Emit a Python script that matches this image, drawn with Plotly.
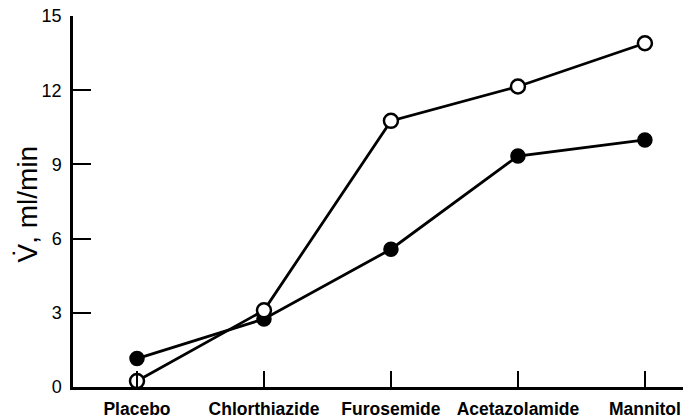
import plotly.graph_objects as go

categories = ["Placebo", "Chlorthiazide", "Furosemide", "Acetazolamide", "Mannitol"]
open_values = [0.24, 3.1, 10.76, 12.15, 13.9]
filled_values = [1.15, 2.75, 5.57, 9.34, 9.99]
y_ticks = [0, 3, 6, 9, 12, 15]
y_title = "V\u0307, ml/min"

x_idx = list(range(len(categories)))

fig = go.Figure()
fig.add_trace(go.Scatter(
    x=x_idx, y=filled_values, mode="lines+markers",
    line=dict(color="black", width=2.8),
    marker=dict(symbol="circle", size=14, color="black", line=dict(color="black", width=1.5)),
    showlegend=False, cliponaxis=False))
fig.add_trace(go.Scatter(
    x=x_idx, y=open_values, mode="lines+markers",
    line=dict(color="black", width=2.8),
    marker=dict(symbol="circle", size=14, color="white", line=dict(color="black", width=2.5)),
    showlegend=False, cliponaxis=False))

fig.add_annotation(
    text=y_title, textangle=-90, xref="paper", yref="paper", x=0, y=0.5,
    xanchor="center", yanchor="middle", xshift=-46, yshift=-3, showarrow=False,
    font=dict(size=28, family="Liberation Sans, Arial, sans-serif", color="black"))

fig.update_layout(
    template="none",
    width=683, height=418,
    margin=dict(l=73, r=0, t=16, b=31, autoexpand=False),
    plot_bgcolor="white", paper_bgcolor="white",
    font=dict(family="Liberation Sans, Arial, sans-serif", color="black"),
    xaxis=dict(
        automargin=False,
        range=[-0.504, 4.3], tickmode="array", tickvals=x_idx, ticktext=categories,
        showline=True, linecolor="black", linewidth=2.5, ticks="inside", ticklen=16,
        tickwidth=2, tickcolor="black", showgrid=False, zeroline=False,
        ticklabelstandoff=4,
        tickfont=dict(size=17.5, family="Liberation Sans, Arial, sans-serif", weight="bold"),
    ),
    yaxis=dict(
        automargin=False,
        range=[0, 15], tickmode="array", tickvals=y_ticks,
        showline=True, linecolor="black", linewidth=2.5, ticks="inside", ticklen=18,
        tickwidth=2, tickcolor="black", showgrid=False, zeroline=False,
        tickfont=dict(size=18), ticklabelstandoff=5,
    ),
)
fig.write_html("out.html", config={"displayModeBar": False},
               post_script="document.body.style.margin='0';document.body.style.overflow='hidden';")
